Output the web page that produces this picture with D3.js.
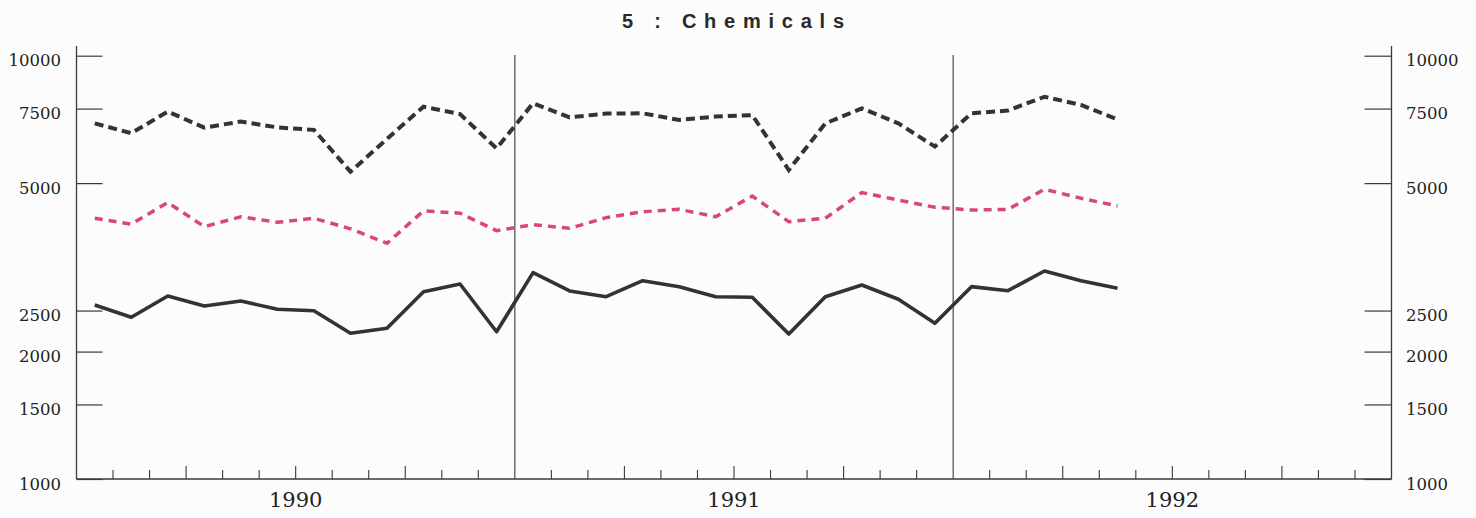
<!DOCTYPE html>
<html>
<head>
<meta charset="utf-8">
<script src="https://cdn.jsdelivr.net/npm/d3@7"></script>
<style>
  html, body { margin: 0; padding: 0; background: #fcfcfc; }
  svg { display: block; }
</style>
</head>
<body>
<svg id="chart" width="1476" height="518"></svg>
<script>
// ---- data ----
const title = "5 : Chemicals";
const yearLabels = ["1990", "1991", "1992"];
const yTicks = [1000, 1500, 2000, 2500, 5000, 7500, 10000];
// monthly values, Jan 1990 .. May 1992
const seriesTop = [6920, 6560, 7380, 6760, 6990, 6770, 6680, 5320, 6360, 7580, 7280, 6040,
                   7720, 7150, 7300, 7310, 7050, 7180, 7240, 5370, 6920, 7510, 6920, 6100,
                   7310, 7420, 8000, 7650, 7070];
const seriesMid = [4130, 4000, 4500, 3945, 4165, 4040, 4130, 3900, 3605, 4300, 4245, 3860,
                   3990, 3910, 4145, 4280, 4335, 4165, 4660, 4055, 4130, 4750, 4560, 4385,
                   4320, 4335, 4835, 4605, 4415];
const seriesLow = [2577, 2410, 2706, 2563, 2633, 2517, 2498, 2209, 2270, 2770, 2888, 2228,
                   3072, 2781, 2696, 2941, 2847, 2696, 2687, 2200, 2696, 2872, 2658, 2332,
                   2847, 2785, 3100, 2941, 2822];

(function () {
// ---- layout ----
const svg = d3.select("#chart");
const padL = 76.5, padR = 1391.5, padT = 46, padB = 479;
const nMonths = 36;

const x = d3.scaleLinear().domain([0, nMonths]).range([padL, padR]);
const y = d3.scaleLog().domain([1000, 10000]).range([padB, 55.7]);

const axisColor = "#3a3a3a";
const textColor = "#222";

// title
svg.append("text")
  .attr("x", 733).attr("y", 28)
  .attr("text-anchor", "middle")
  .attr("font-family", "Liberation Sans, Arial, sans-serif")
  .attr("font-size", 20)
  .attr("font-weight", "bold")
  .attr("fill", "#2a2a2a")
  .attr("textLength", 222)
  .attr("lengthAdjust", "spacing")
  .text(title);

// left & right axes with inward ticks
const gL = svg.append("g").attr("transform", `translate(${padL},0)`)
  .call(d3.axisRight(y).tickValues(yTicks).tickSize(26).tickFormat(""));
const gR = svg.append("g").attr("transform", `translate(${padR},0)`)
  .call(d3.axisLeft(y).tickValues(yTicks).tickSize(27).tickFormat(""));
[gL, gR].forEach(g => {
  g.select(".domain").remove();
  g.selectAll(".tick line").attr("stroke", axisColor).attr("stroke-width", 1.2);
});
svg.append("line").attr("x1", padL).attr("x2", padL).attr("y1", padT).attr("y2", padB)
  .attr("stroke", axisColor).attr("stroke-width", 1.3);
svg.append("line").attr("x1", padR).attr("x2", padR).attr("y1", padT).attr("y2", padB)
  .attr("stroke", axisColor).attr("stroke-width", 1.3);

// y labels
const labFont = "DejaVu Serif, Liberation Serif, serif";
svg.append("g").selectAll("text").data(yTicks).join("text")
  .attr("x", 61).attr("y", d => y(d) + 5)
  .attr("dominant-baseline", "central")
  .attr("text-anchor", "end")
  .attr("font-family", labFont).attr("font-size", 16.5).attr("fill", textColor)
  .text(d => d);
svg.append("g").selectAll("text").data(yTicks).join("text")
  .attr("x", 1406).attr("y", d => y(d) + 5)
  .attr("dominant-baseline", "central")
  .attr("text-anchor", "start")
  .attr("font-family", labFont).attr("font-size", 16.5).attr("fill", textColor)
  .text(d => d);

// x axis
svg.append("line").attr("x1", padL).attr("x2", padR).attr("y1", padB).attr("y2", padB)
  .attr("stroke", axisColor).attr("stroke-width", 1.3);
const monthTicks = d3.range(1, nMonths).filter(k => k % 12 !== 0);
svg.append("g").selectAll("line").data(monthTicks).join("line")
  .attr("x1", d => x(d)).attr("x2", d => x(d))
  .attr("y1", padB).attr("y2", d => padB - (d % 3 === 0 ? 13 : 9))
  .attr("stroke", axisColor).attr("stroke-width", 1.1);
// year boundary lines
const yearLines = d3.range(12, nMonths, 12);
svg.append("g").selectAll("line").data(yearLines).join("line")
  .attr("x1", d => x(d)).attr("x2", d => x(d))
  .attr("y1", 55).attr("y2", padB)
  .attr("stroke", axisColor).attr("stroke-width", 1.1);
// year labels
svg.append("g").selectAll("text").data(yearLabels).join("text")
  .attr("x", (d, i) => x(i * 12 + 6)).attr("y", 500)
  .attr("dominant-baseline", "central")
  .attr("text-anchor", "middle")
  .attr("font-family", labFont).attr("font-size", 21).attr("fill", textColor)
  .text(d => d);

// series
const line = d3.line().x((d, i) => x(i + 0.5)).y(d => y(d));
svg.append("path").datum(seriesTop).attr("d", line)
  .attr("fill", "none").attr("stroke", "#333").attr("stroke-width", 4)
  .attr("stroke-dasharray", "9,5");
svg.append("path").datum(seriesMid).attr("d", line)
  .attr("fill", "none").attr("stroke", "#d9467e").attr("stroke-width", 3.5)
  .attr("stroke-dasharray", "8,6");
svg.append("path").datum(seriesLow).attr("d", line)
  .attr("fill", "none").attr("stroke", "#333").attr("stroke-width", 3.6)
  .attr("stroke-linejoin", "round");
})();
</script>
</body>
</html>
